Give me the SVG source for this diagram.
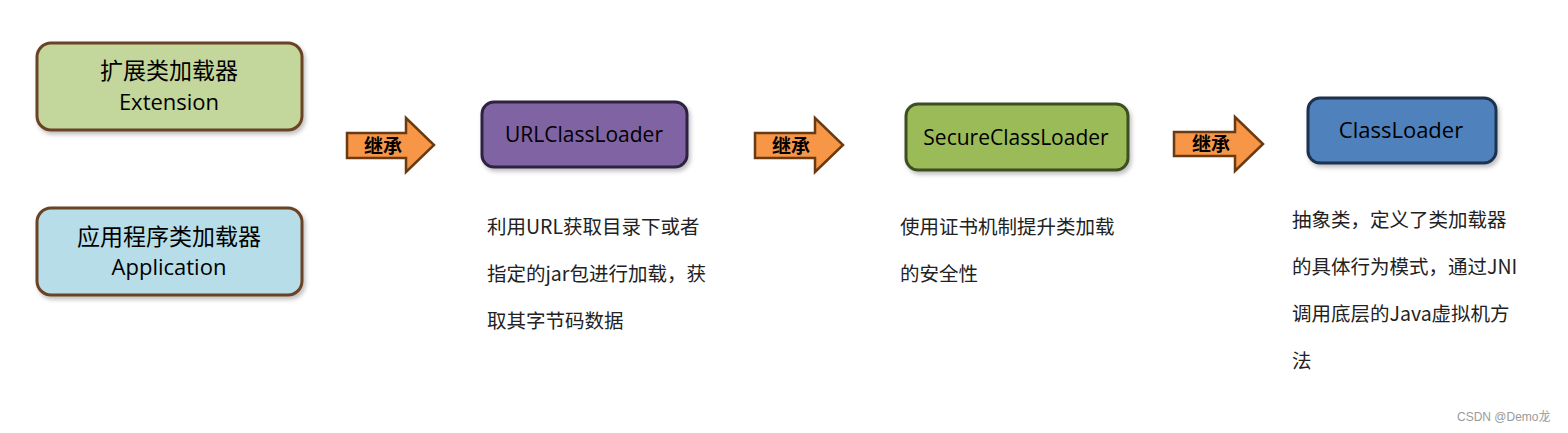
<svg xmlns="http://www.w3.org/2000/svg" width="1568" height="433" viewBox="0 0 1568 433">
<defs>
<filter id="sh" x="-10%" y="-10%" width="125%" height="135%">
<feDropShadow dx="2" dy="3" stdDeviation="2" flood-color="#000" flood-opacity="0.25"/>
</filter>
</defs>
<style>
.box{stroke-width:3;filter:url(#sh)}
.lbl{font-family:"Open Sans","Noto Sans CJK SC",sans-serif;fill:#000;text-anchor:middle}
.cjk{font-family:"Noto Sans CJK SC",sans-serif;font-size:23px;fill:#000;text-anchor:middle}
.big{font-size:22px}
.cls{font-size:21px}
.desc{font-family:"Noto Sans CJK SC","Noto Sans",sans-serif;font-size:19.5px;fill:#222}
.arrow{fill:#f79646;stroke:#6a3b12;stroke-width:2.5;stroke-linejoin:miter}
.inh{font-family:"Noto Sans CJK SC",sans-serif;font-size:19px;font-weight:bold;fill:#000;text-anchor:middle}
.wm{font-family:"Liberation Sans","Noto Sans CJK SC",sans-serif;font-size:12px;fill:#9a9a9a}
</style>
<rect width="1568" height="433" fill="#fff"/>
<g id="extension">
<rect class="box" x="37" y="43" width="265" height="87" rx="14" fill="#c3d69b" stroke="#6b4226"/>
<text class="cjk" x="169" y="79">扩展类加载器</text>
<text class="lbl big" x="169" y="109.5">Extension</text>
</g>
<g id="application">
<rect class="box" x="37" y="208" width="265" height="87" rx="14" fill="#b7dde8" stroke="#6b4226"/>
<text class="cjk" x="169" y="244.5">应用程序类加载器</text>
<text class="lbl big" x="169" y="275">Application</text>
</g>
<g id="urlclassloader">
<rect class="box" x="482" y="102" width="205" height="65" rx="12" fill="#8064a2" stroke="#2e2440"/>
<text class="lbl cls" x="584" y="142">URLClassLoader</text>
</g>
<g id="secureclassloader">
<rect class="box" x="906" y="104" width="222" height="66" rx="12" fill="#9bbb59" stroke="#3d4f22"/>
<text class="lbl cls" x="1016" y="145">SecureClassLoader</text>
</g>
<g id="classloader">
<rect class="box" x="1308" y="98" width="188" height="65" rx="12" fill="#4f81bd" stroke="#1f3350"/>
<text class="lbl big" x="1401" y="138">ClassLoader</text>
</g>
<g id="connectors">
<polygon class="arrow" points="347,133 406,133 406,118 434,145 406,172 406,158 347,158"/>
<text class="inh" x="383" y="153">继承</text>
<polygon class="arrow" points="755,133 815,133 815,118 843,145 815,172 815,158 755,158"/>
<text class="inh" x="791" y="153">继承</text>
<polygon class="arrow" points="1174,132 1235,132 1235,117 1263,144 1235,171 1235,156 1174,156"/>
<text class="inh" x="1211" y="151">继承</text>
</g>
<g id="desc-url">
<text class="desc" x="487" y="234">利用URL获取目录下或者</text>
<text class="desc" x="487" y="281">指定的jar包进行加载，获</text>
<text class="desc" x="487" y="328">取其字节码数据</text>
</g>
<g id="desc-secure">
<text class="desc" x="900" y="234">使用证书机制提升类加载</text>
<text class="desc" x="900" y="281">的安全性</text>
</g>
<g id="desc-classloader">
<text class="desc" x="1292" y="227">抽象类，定义了类加载器</text>
<text class="desc" x="1292" y="274">的具体行为模式，通过JNI</text>
<text class="desc" x="1292" y="321">调用底层的Java虚拟机方</text>
<text class="desc" x="1292" y="368">法</text>
</g>
<text class="wm" x="1457" y="421">CSDN @Demo龙</text>
</svg>
